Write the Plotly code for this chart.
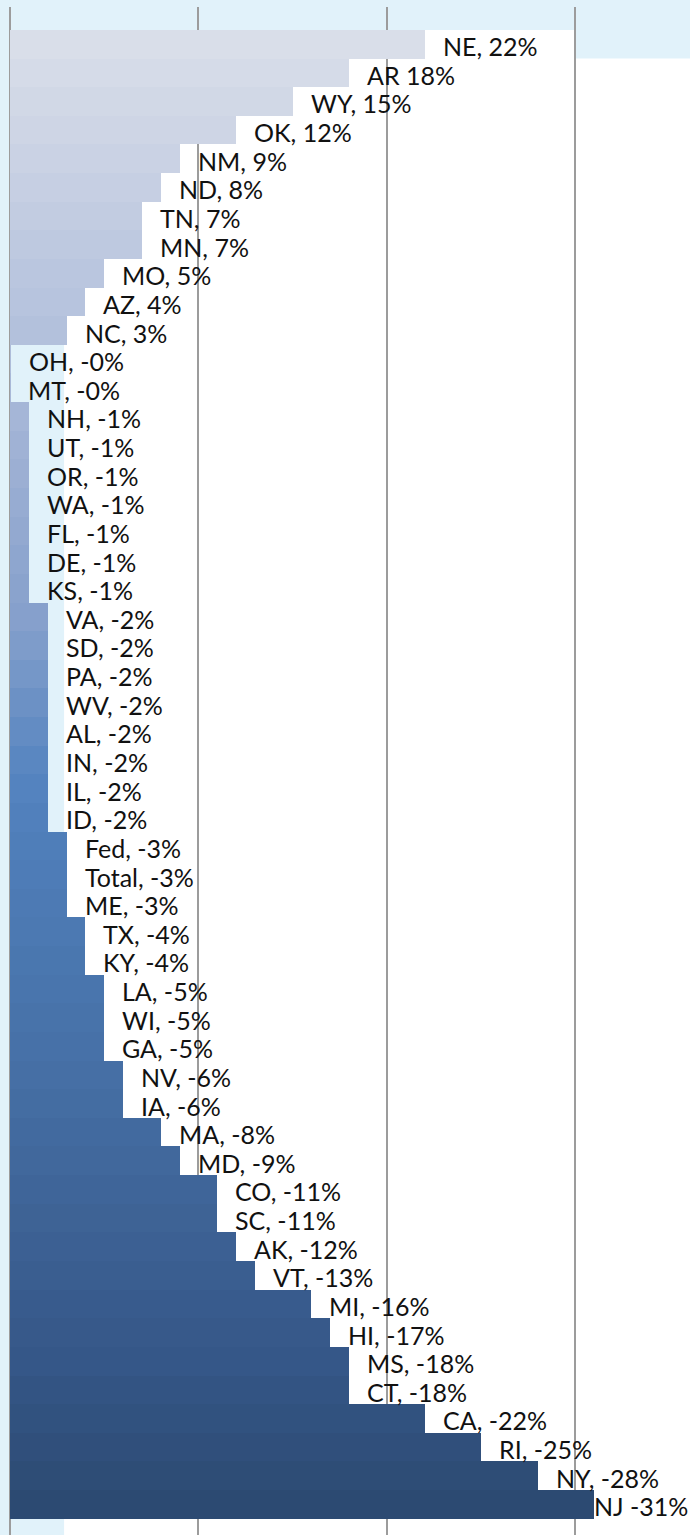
import plotly.graph_objects as go
from plotly.colors import sample_colorscale

# Eyaletlere göre yüzde değişim (yukarıdan aşağıya sıralı)
states = [
    "NE", "AR", "WY", "OK", "NM", "ND", "TN", "MN", "MO", "AZ", "NC",
    "OH", "MT", "NH", "UT", "OR", "WA", "FL", "DE", "KS",
    "VA", "SD", "PA", "WV", "AL", "IN", "IL", "ID",
    "Fed", "Total", "ME", "TX", "KY", "LA", "WI", "GA", "NV", "IA",
    "MA", "MD", "CO", "SC", "AK", "VT", "MI", "HI", "MS", "CT",
    "CA", "RI", "NY", "NJ",
]
pct_change = [
    22, 18, 15, 12, 9, 8, 7, 7, 5, 4, 3,
    -0.03, -0.02, -1, -1, -1, -1, -1, -1, -1,
    -2, -2, -2, -2, -2, -2, -2, -2,
    -3, -3, -3, -4, -4, -5, -5, -5, -6, -6,
    -8, -9, -11, -11, -12, -13, -16, -17, -18, -18,
    -22, -25, -28, -31,
]
no_comma = {"AR", "NJ"}

labels = [f"{s}{'' if s in no_comma else ','} {v:.0f}%" for s, v in zip(states, pct_change)]
bar_len = [abs(v) for v in pct_change]

# gri-lavanttan laciverte geçiş
scale = [
    [0.00, "#d9dee9"], [0.20, "#b2c0dc"], [0.27, "#a1b3d5"],
    [0.40, "#849fcb"], [0.50, "#5584c0"], [0.55, "#4f7eb9"],
    [0.70, "#4670a6"], [0.80, "#3e6396"], [0.90, "#355788"],
    [1.00, "#2c4a72"],
]
n = len(states)
colors = sample_colorscale(scale, [i / (n - 1) for i in range(n)])

LIGHT = "#e1f2fa"
GRID = "#9c9c9c"
X_MAX = 36.09
label_font = dict(family="Lato", size=25, color="#111111")

fig = go.Figure()
fig.add_trace(go.Bar(
    y=states, x=bar_len, orientation="h",
    marker=dict(color=colors, line=dict(width=0)),
    hoverinfo="skip",
))

for s, x, t in zip(states, bar_len, labels):
    if x > 30:
        # sağ kenara sığmayan etiket: kenara yasla
        fig.add_annotation(x=1, y=s, xref="paper", yref="y", text=t,
                           showarrow=False, xanchor="right", yshift=-2,
                           font=label_font)
    else:
        fig.add_annotation(x=x, y=s, xref="x", yref="y", text=t,
                           showarrow=False, xanchor="left", xshift=16,
                           yshift=-2, font=label_font)

# beyaz çizim alanı (açık mavi zeminin üstünde)
fig.add_shape(type="rect", xref="x", yref="y", x0=2.87, x1=30, y0=-0.5, y1=60,
              fillcolor="white", line=dict(width=0), layer="below")
fig.add_shape(type="rect", xref="x", yref="y", x0=30, x1=40, y0=0.5, y1=60,
              fillcolor="white", line=dict(width=0), layer="below")

fig.update_layout(
    width=690, height=1535,
    paper_bgcolor=LIGHT, plot_bgcolor=LIGHT,
    margin=dict(l=10, r=0, t=7, b=0),
    bargap=0, showlegend=False,
    xaxis=dict(range=[0, X_MAX], dtick=10, tick0=0, showticklabels=False,
               showgrid=True, gridcolor=GRID, gridwidth=2,
               zeroline=True, zerolinecolor=GRID, zerolinewidth=2,
               showline=False, ticks="", fixedrange=True),
    yaxis=dict(type="category", categoryorder="array", categoryarray=states,
               range=[52.07, -1.30], showticklabels=False, showgrid=False,
               zeroline=False, showline=False, ticks="", fixedrange=True),
)

fig.write_html("out.html", config={"displayModeBar": False},
               post_script="document.body.style.margin='0';")
